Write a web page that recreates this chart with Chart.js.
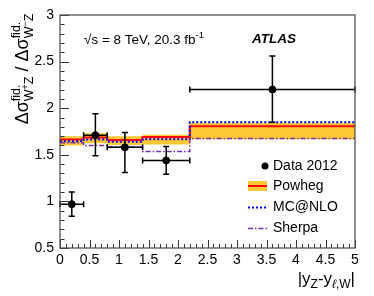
<!DOCTYPE html>
<html>
<head>
<meta charset="utf-8">
<script src="https://cdn.jsdelivr.net/npm/chart.js@4.4.0/dist/chart.umd.min.js"></script>
<style>
html, body { margin: 0; padding: 0; background: #fff; }
#c { display: block; }
</style>
</head>
<body>
<canvas id="c" width="374" height="296"></canvas>
<script>
// bins in |y_Z - y_l,W|
const binEdges = [0, 0.4, 0.8, 1.4, 2.2, 5];

// data 2012 (point, stat+syst band)
const dataX   = [0.2, 0.6, 1.1, 1.8, 3.6];
const dataY   = [0.97, 1.71, 1.58, 1.44, 2.20];
const dataYHi = [1.10, 1.94, 1.74, 1.59, 2.56];
const dataYLo = [0.84, 1.49, 1.31, 1.29, 1.85];

// predictions per bin
const powheg   = [1.665, 1.685, 1.66, 1.69, 1.805];
const powhegHi = [1.70, 1.73, 1.70, 1.715, 1.84];
const powhegLo = [1.60, 1.625, 1.605, 1.61, 1.668];
const mcatnlo  = [1.645, 1.665, 1.64, 1.667, 1.85];
const sherpa   = [1.63, 1.60, 1.585, 1.535, 1.675];

const xTicks = [0, 0.5, 1, 1.5, 2, 2.5, 3, 3.5, 4, 4.5, 5];
const yTicks = [0.5, 1, 1.5, 2, 2.5, 3];

const FONT = '"Liberation Sans", Arial, Helvetica, sans-serif';
const YELLOW = '#ffc934';
const RED = '#ff0000';
const BLUE = '#0000ff';
const PURPLE = '#7a2ea6';

Chart.defaults.font.family = FONT;
Chart.defaults.color = '#000';

// histogram-style steps: one point per left edge, last value repeated at the right edge
function steps(vals) {
    return binEdges.map((e, i) => ({ x: e, y: vals[Math.min(i, vals.length - 1)] }));
}

function put(ctx, text, size, x, y, draw, style) {
    ctx.font = (style || '') + ' ' + size + 'px ' + FONT;
    if (draw) ctx.fillText(text, x, y);
    return ctx.measureText(text).width;
}

function ratioTitle(ctx, draw) {
    let x = 0;
    const piece = (sign) => {
        x += put(ctx, '\u0394\u03c3', 18, x, 0, draw);
        const wSup = put(ctx, 'fid.', 12.5, x, -8, draw);
        let xs = x;
        xs += put(ctx, 'W', 12.5, xs, 5, draw);
        xs += put(ctx, sign, 9, xs, 0, draw);
        xs += put(ctx, 'Z', 12.5, xs, 5, draw);
        x = Math.max(x + wSup, xs);
    };
    piece('+');
    x += put(ctx, ' / ', 18, x, 0, draw);
    piece('\u2212');
    return x;
}

function xTitle(ctx, x, y, draw) {
    const x0 = x;
    x += put(ctx, '|y', 17, x, y, draw);
    x += put(ctx, 'Z', 12, x, y + 4, draw);
    x += put(ctx, '-y', 17, x, y, draw);
    x += put(ctx, '\u2113', 12, x, y + 4, draw, 'italic');
    x += put(ctx, ',W', 12, x, y + 4, draw);
    x += put(ctx, '|', 17, x, y, draw);
    return x - x0;
}

const frameTicks = {
    id: 'frameTicks',
    afterDraw(chart) {
        const ctx = chart.ctx, a = chart.chartArea;
        const xs = chart.scales.x, ys = chart.scales.y;
        ctx.save();
        ctx.strokeStyle = '#333';
        ctx.lineWidth = 1;
        ctx.beginPath();
        for (let k = Math.round(xs.min * 10); k <= Math.round(xs.max * 10); k++) {
            const px = Math.round(xs.getPixelForValue(k / 10)) + 0.5;
            const len = k % 5 === 0 ? 8 : 4;
            ctx.moveTo(px, a.bottom);
            ctx.lineTo(px, a.bottom - len);
        }
        for (let k = Math.round(ys.min * 10); k <= Math.round(ys.max * 10); k++) {
            const py = Math.round(ys.getPixelForValue(k / 10)) + 0.5;
            const len = k % 5 === 0 ? 9 : 4.5;
            ctx.moveTo(a.left, py);
            ctx.lineTo(a.left + len, py);
        }
        ctx.stroke();
        ctx.strokeStyle = '#555';
        ctx.lineWidth = 1.3;
        ctx.strokeRect(a.left, a.top, a.right - a.left, a.bottom - a.top);
        ctx.restore();
    }
};

const errorBars = {
    id: 'errorBars',
    afterDatasetsDraw(chart) {
        const ctx = chart.ctx, xs = chart.scales.x, ys = chart.scales.y;
        const c = 3;
        ctx.save();
        ctx.strokeStyle = '#000';
        ctx.lineWidth = 1.5;
        dataX.forEach((x, i) => {
            const px = xs.getPixelForValue(x), py = ys.getPixelForValue(dataY[i]);
            const x0 = xs.getPixelForValue(binEdges[i]), x1 = xs.getPixelForValue(binEdges[i + 1]);
            const yt = ys.getPixelForValue(dataYHi[i]), yb = ys.getPixelForValue(dataYLo[i]);
            ctx.beginPath();
            ctx.moveTo(x0, py); ctx.lineTo(x1, py);
            ctx.moveTo(px, yt); ctx.lineTo(px, yb);
            ctx.moveTo(x0, py - c); ctx.lineTo(x0, py + c);
            ctx.moveTo(x1, py - c); ctx.lineTo(x1, py + c);
            ctx.moveTo(px - c, yt); ctx.lineTo(px + c, yt);
            ctx.moveTo(px - c, yb); ctx.lineTo(px + c, yb);
            ctx.stroke();
        });
        ctx.restore();
    }
};

const labels = {
    id: 'labels',
    afterDraw(chart) {
        const ctx = chart.ctx;
        ctx.save();
        ctx.fillStyle = '#000';
        ctx.textBaseline = 'middle';

        // energy / luminosity
        let x = 84;
        x += put(ctx, '\u221as = 8 TeV, 20.3 fb', 13.5, x, 40, true);
        put(ctx, '-1', 9.5, x, 35, true);
        put(ctx, 'ATLAS', 13.5, 252, 39, true, 'italic bold');

        // legend
        ctx.beginPath();
        ctx.arc(265, 166, 3.5, 0, Math.PI * 2);
        ctx.fill();
        ctx.fillStyle = YELLOW;
        ctx.fillRect(248, 181, 19, 10);
        ctx.lineWidth = 2;
        ctx.strokeStyle = RED;
        ctx.beginPath(); ctx.moveTo(248, 186); ctx.lineTo(267, 186); ctx.stroke();
        ctx.strokeStyle = BLUE;
        ctx.setLineDash([2, 2]);
        ctx.beginPath(); ctx.moveTo(248, 207.5); ctx.lineTo(267, 207.5); ctx.stroke();
        ctx.strokeStyle = PURPLE;
        ctx.lineWidth = 1.5;
        ctx.setLineDash([5, 2, 1.5, 2]);
        ctx.beginPath(); ctx.moveTo(248, 228.5); ctx.lineTo(267, 228.5); ctx.stroke();
        ctx.setLineDash([]);
        ctx.fillStyle = '#000';
        put(ctx, 'Data 2012', 14, 273, 166, true);
        put(ctx, 'Powheg', 14, 273, 186, true);
        put(ctx, 'MC@NLO', 14, 273, 207, true);
        put(ctx, 'Sherpa', 14, 273, 228, true);

        // axis titles
        ctx.textBaseline = 'alphabetic';
        const wx = xTitle(ctx, 0, 0, false);
        xTitle(ctx, chart.chartArea.right - wx, 284, true);

        const wy = ratioTitle(ctx, false);
        ctx.translate(28, 69);
        ctx.rotate(-Math.PI / 2);
        ctx.translate(-wy / 2, 0);
        ratioTitle(ctx, true);
        ctx.restore();
    }
};

new Chart(document.getElementById('c'), {
    type: 'line',
    data: {
        datasets: [
            { label: 'Data 2012', data: dataX.map((x, i) => ({ x: x, y: dataY[i] })),
              showLine: false, pointRadius: 3.5, pointBackgroundColor: '#000',
              pointBorderColor: '#000', order: 0 },
            { label: 'Sherpa', data: steps(sherpa), stepped: true, borderColor: PURPLE,
              borderWidth: 1.5, borderDash: [5, 2, 1.5, 2], pointRadius: 0, fill: false, order: 1 },
            { label: 'MC@NLO', data: steps(mcatnlo), stepped: true, borderColor: BLUE,
              borderWidth: 2, borderDash: [2, 2], pointRadius: 0, fill: false, order: 2 },
            { label: 'Powheg', data: steps(powheg), stepped: true, borderColor: RED,
              borderWidth: 2, pointRadius: 0, fill: false, order: 3 },
            { label: 'Powheg up', data: steps(powhegHi), stepped: true, borderWidth: 0,
              borderColor: 'rgba(0,0,0,0)', pointRadius: 0, fill: false, order: 5 },
            { label: 'Powheg down', data: steps(powhegLo), stepped: true, borderWidth: 0,
              borderColor: 'rgba(0,0,0,0)', backgroundColor: YELLOW, pointRadius: 0,
              fill: '-1', order: 4 }
        ]
    },
    options: {
        responsive: false,
        devicePixelRatio: 1,
        animation: false,
        layout: { padding: { top: 15, right: 19, left: 0, bottom: 0 } },
        plugins: { legend: { display: false }, tooltip: { enabled: false } },
        scales: {
            x: {
                type: 'linear', min: 0, max: 5,
                afterBuildTicks: (s) => { s.ticks = xTicks.map(v => ({ value: v })); },
                ticks: { font: { size: 14 }, padding: 4, autoSkip: false, maxRotation: 0,
                         callback: (v) => String(v) },
                grid: { display: false, drawTicks: false },
                border: { display: false },
                afterFit: (s) => { s.height = 48; }
            },
            y: {
                type: 'linear', min: 0.5, max: 3,
                afterBuildTicks: (s) => { s.ticks = yTicks.map(v => ({ value: v })); },
                ticks: { font: { size: 14 }, padding: 6, callback: (v) => String(v) },
                grid: { display: false, drawTicks: false },
                border: { display: false },
                afterFit: (s) => { s.width = 60; }
            }
        }
    },
    plugins: [errorBars, frameTicks, labels]
});
</script>
</body>
</html>
